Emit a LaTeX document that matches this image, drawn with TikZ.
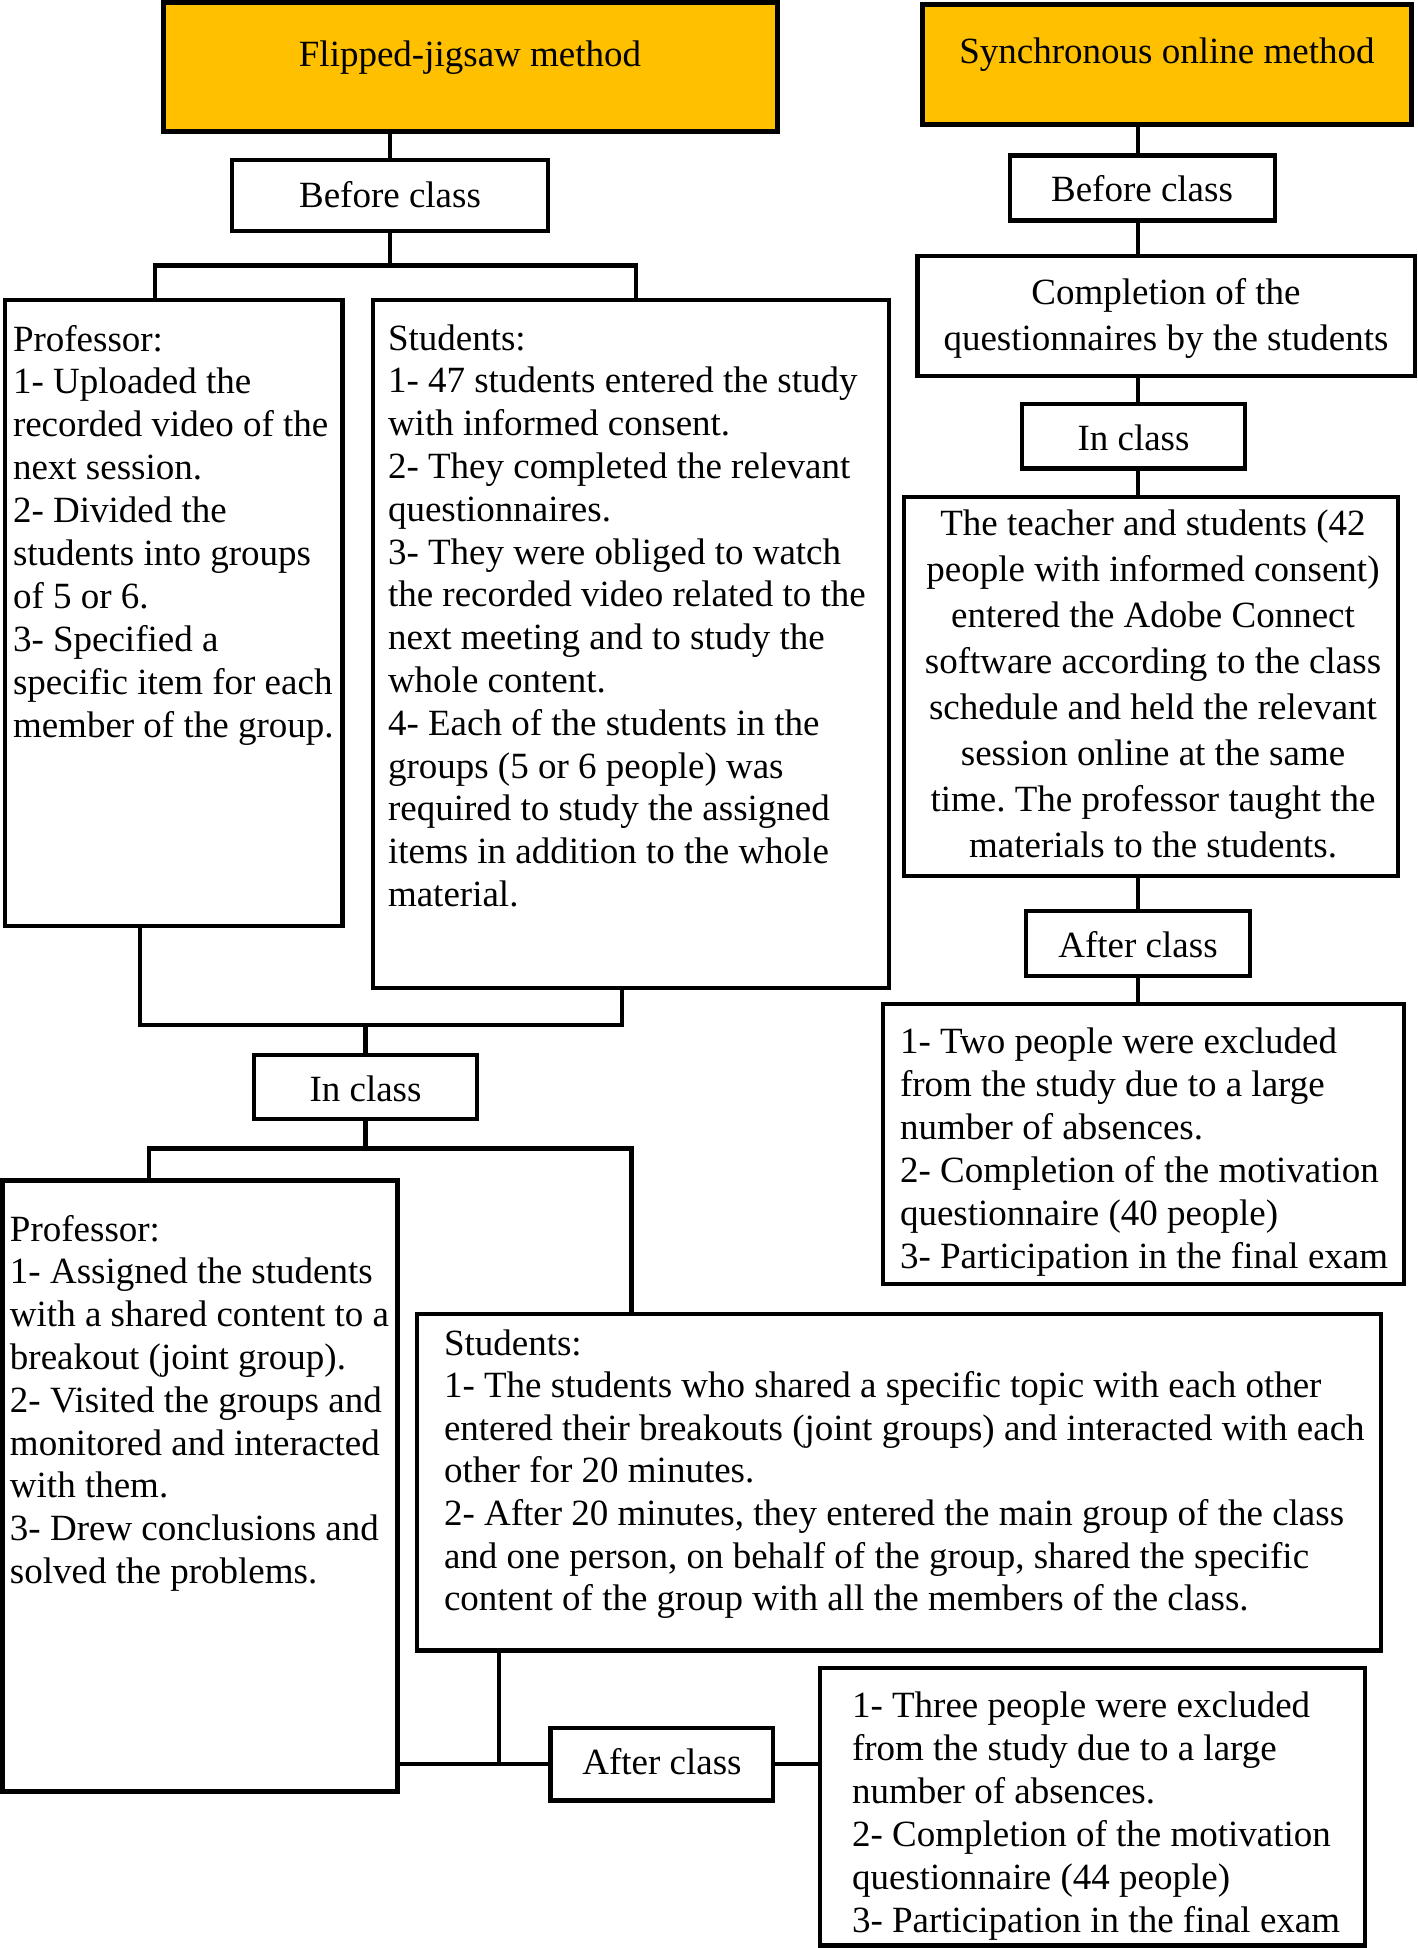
\documentclass[tikz,border=0pt]{standalone}
\usepackage{fontspec}
\setmainfont{Liberation Serif}
\definecolor{hdrfill}{HTML}{FFC000}
\newcommand\mystrt{\rule{0pt}{15pt}}
\frenchspacing
\begin{document}
\begin{tikzpicture}[x=0.5pt,y=-0.5pt,
  box/.style={draw=black, line width=2.3pt, fill=white, inner sep=0pt, outer sep=0pt},
  hdr/.style={box, fill=hdrfill, line width=2.5pt},
  conn/.style={draw=black, line width=2.2pt},
  lbl/.style={inner sep=0pt, outer sep=0pt, font=\fontsize{18.5pt}{21.4pt}\selectfont, anchor=base},
  para/.style={inner sep=0pt, outer sep=0pt, align=left, anchor=north west, font=\fontsize{18.5pt}{#1}\selectfont},
  cpara/.style={inner sep=0pt, outer sep=0pt, align=center, anchor=north, font=\fontsize{18.5pt}{#1}\selectfont}]
\useasboundingbox (0,0) rectangle (1418,1948);
\fill[white] (0,0) rectangle (1418,1948);

% ---------- boxes ----------
\node[hdr, minimum width=307pt, minimum height=64.5pt] (hdrL) at (470,67) {};
\node[hdr, minimum width=244.5pt, minimum height=60pt] (hdrR) at (1167,65) {};
\node[box, minimum width=158pt, minimum height=35.5pt] (befL) at (390,195.5) {};
\node[box, minimum width=132.5pt, minimum height=32.5pt] (befR) at (1142.5,188.2) {};
\node[box, minimum width=168.75pt, minimum height=313pt] (profL) at (173.75,613) {};
\node[box, minimum width=258pt, minimum height=344pt] (studL) at (631,644) {};
\node[box, minimum width=248.75pt, minimum height=60pt] (compl) at (1166.25,316) {};
\node[box, minimum width=111.5pt, minimum height=32.25pt] (inclR) at (1133.5,436.25) {};
\node[box, minimum width=247pt, minimum height=189.5pt] (teach) at (1151,686.5) {};
\node[box, minimum width=112pt, minimum height=32.5pt] (aftR) at (1138,943.5) {};
\node[box, minimum width=260.5pt, minimum height=140pt] (exclR) at (1143.5,1144) {};
\node[box, minimum width=111.5pt, minimum height=32pt] (inclL) at (365.5,1087) {};
\node[box, minimum width=197.5pt, minimum height=305.5pt] (profL2) at (200,1486) {};
\node[box, minimum width=482pt, minimum height=168.25pt] (studL2) at (899,1482.25) {};
\node[box, minimum width=111.25pt, minimum height=36.25pt] (aftL) at (661.75,1764.25) {};
\node[box, minimum width=272.5pt, minimum height=138.75pt] (exclL) at (1092.5,1806.75) {};

% ---------- texts ----------
\node[lbl] (hdrLt) at (470,67) {Flipped-jigsaw method};
\node[lbl] (hdrRt) at (1167,64) {Synchronous online method};
\node[lbl] (befLt) at (390,207) {Before class};
\node[lbl] (befRt) at (1142,201.7) {Before class};
\node[lbl] (inclRt) at (1133.5,450.7) {In class};
\node[lbl] (inclLt) at (365.5,1101) {In class};
\node[lbl] (aftRt) at (1138,957) {After class};
\node[lbl] (aftLt) at (662,1774) {After class};

\node[para=21.45pt] (profLt) at (13,321) {\mystrt Professor:\\
1- Uploaded the\\
recorded video of the\\
next session.\\
2- Divided the\\
students into groups\\
of 5 or 6.\\
3- Specified a\\
specific item for each\\
member of the group.};

\node[para=21.4pt] (studLt) at (388,320) {\mystrt Students:\\
1- 47 students entered the study\\
with informed consent.\\
2- They completed the relevant\\
questionnaires.\\
3- They were obliged to watch\\
the recorded video related to the\\
next meeting and to study the\\
whole content.\\
4- Each of the students in the\\
groups (5 or 6 people) was\\
required to study the assigned\\
items in addition to the whole\\
material.};

\node[cpara=23.3pt] (complt) at (1166,274) {\mystrt Completion of the\\
questionnaires by the students};

\node[cpara=23pt] (teacht) at (1153,505) {\mystrt The teacher and students (42\\
people with informed consent)\\
entered the Adobe Connect\\
software according to the class\\
schedule and held the relevant\\
session online at the same\\
time. The professor taught the\\
materials to the students.};

\node[para=21.5pt] (exclRt) at (900,1023) {\mystrt 1- Two people were excluded\\
from the study due to a large\\
number of absences.\\
2- Completion of the motivation\\
questionnaire (40 people)\\
3- Participation in the final exam};

\node[para=21.4pt] (profL2t) at (10,1211) {\mystrt Professor:\\
1- Assigned the students\\
with a shared content to a\\
breakout (joint group).\\
2- Visited the groups and\\
monitored and interacted\\
with them.\\
3- Drew conclusions and\\
solved the problems.};

\node[para=21.3pt] (studL2t) at (444,1325) {\mystrt Students:\\
1- The students who shared a specific topic with each other\\
entered their breakouts (joint groups) and interacted with each\\
other for 20 minutes.\\
2- After 20 minutes, they entered the main group of the class\\
and one person, on behalf of the group, shared the specific\\
content of the group with all the members of the class.};

\node[para=21.5pt] (exclLt) at (852,1687) {\mystrt 1- Three people were excluded\\
from the study due to a large\\
number of absences.\\
2- Completion of the motivation\\
questionnaire (44 people)\\
3- Participation in the final exam};

% ---------- junction coordinates ----------
\coordinate (jA) at (390,265.5);
\coordinate (pA) at (155,300);
\coordinate (sA) at (636,300);
\coordinate (pB) at (140,926);
\coordinate (sB) at (622,988);
\coordinate (jB) at (365.5,1025);
\coordinate (jC) at (365.5,1148.5);
\coordinate (pC) at (149,1180.5);
\coordinate (sC) at (631.5,1314);
\coordinate (sD) at (499,1650.5);
\coordinate (jD) at (499,1764.25);
\coordinate (colR) at (1138,0);

% ---------- connectors: left ----------
\draw[conn] (hdrL.south -| befL.north) -- (befL.north);
\draw[conn] (befL.south) -- (jA);
\draw[conn] (pA) |- (jA) -| (sA);
\draw[conn] (pB) |- (jB) -| (sB);
\draw[conn] (jB) -- (inclL.north);
\draw[conn] (inclL.south) -- (jC);
\draw[conn] (pC) |- (jC) -| (sC);
\draw[conn] (sD) -- (jD);
\draw[conn] (profL2.east |- aftL.west) -- (aftL.west);
\draw[conn] (aftL.east) -- (exclL.west |- aftL.east);

% ---------- connectors: right ----------
\draw[conn] (hdrR.south -| colR) -- (befR.north -| colR);
\draw[conn] (befR.south -| colR) -- (compl.north -| colR);
\draw[conn] (compl.south -| colR) -- (inclR.north -| colR);
\draw[conn] (inclR.south -| colR) -- (teach.north -| colR);
\draw[conn] (teach.south -| colR) -- (aftR.north -| colR);
\draw[conn] (aftR.south -| colR) -- (exclR.north -| colR);
\end{tikzpicture}
\end{document}
